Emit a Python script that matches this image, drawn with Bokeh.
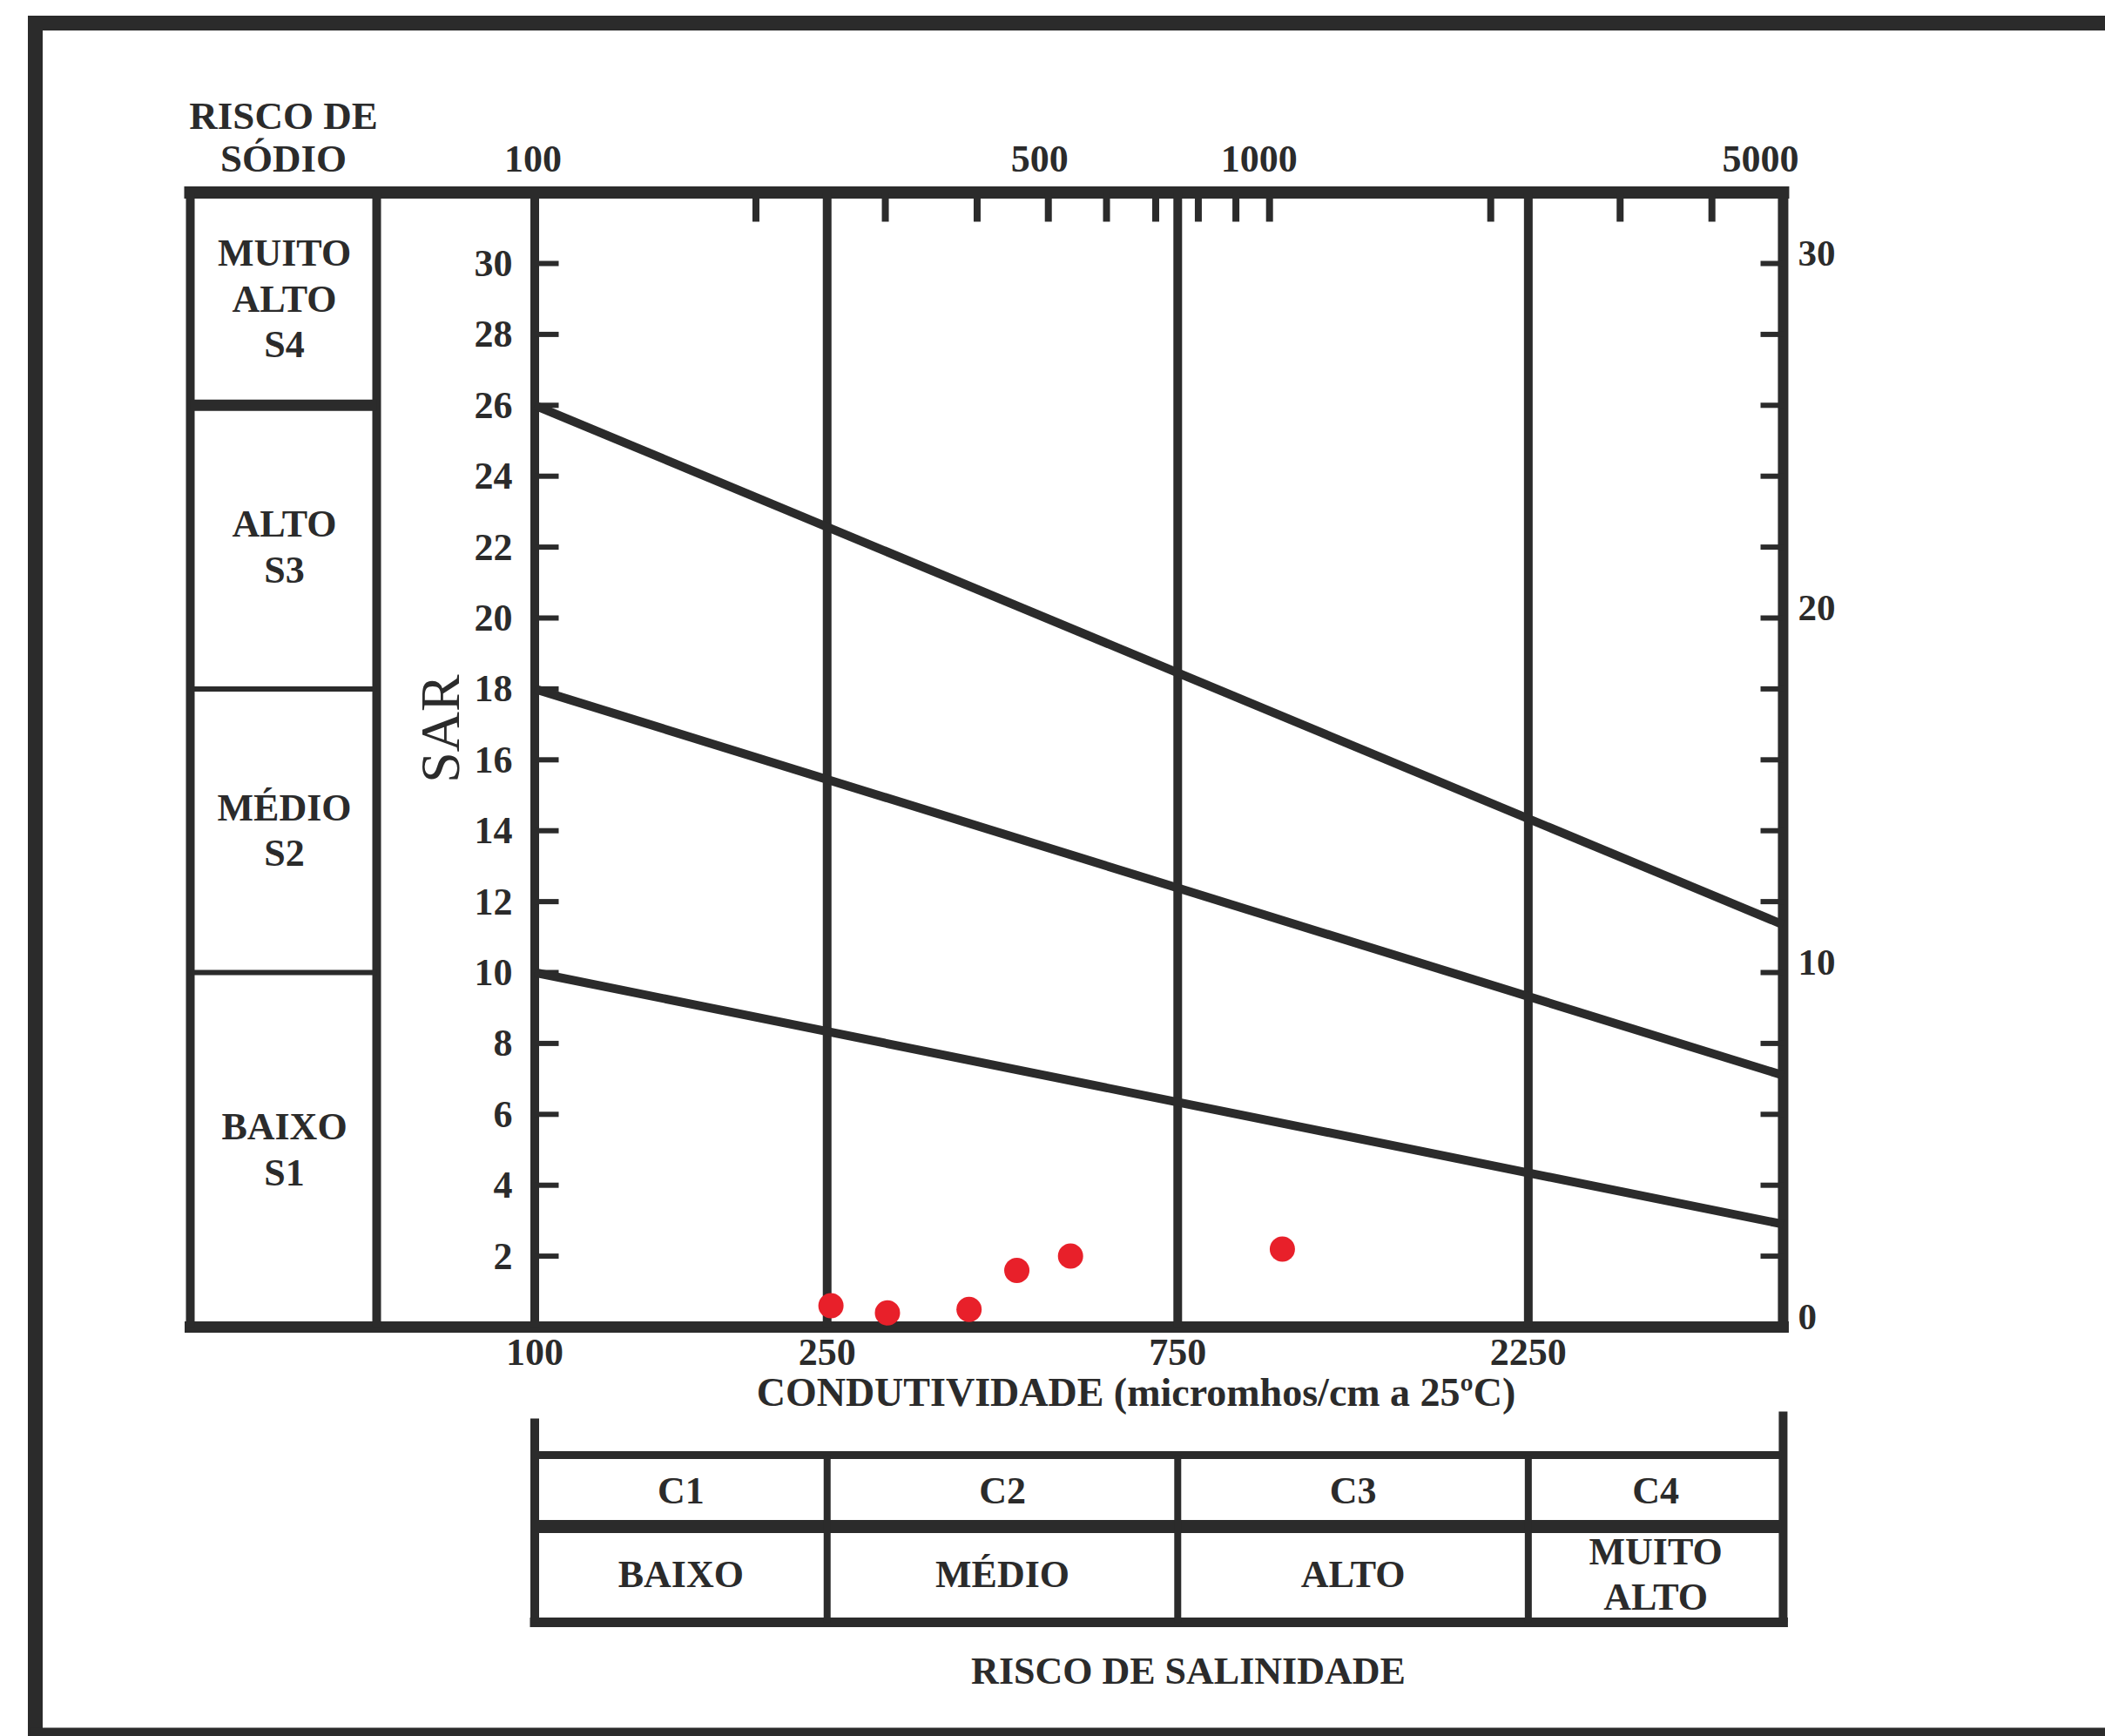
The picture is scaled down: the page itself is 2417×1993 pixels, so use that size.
import math
from bokeh.plotting import figure
from bokeh.models import Range1d
from bokeh.core.properties import value
from bokeh.embed import file_html
from bokeh.resources import INLINE

# ---------------- data ----------------
ec_class_bounds = [100, 250, 750, 2250, 5000]          # salinity class limits (micromhos/cm)
salinity_classes = ["C1", "C2", "C3", "C4"]
salinity_hazard = ["BAIXO", "MÉDIO", "ALTO", "MUITO\nALTO"]
sar_class_bounds = [0, 10, 18, 26, 32]                   # sodium class limits at EC = 100
sodium_hazard = ["BAIXO\nS1", "MÉDIO\nS2", "ALTO\nS3", "MUITO\nALTO\nS4"]
boundary_ec = [100, 5000]
boundary_s1_s2 = [10.0, 2.9]
boundary_s2_s3 = [18.0, 7.1]
boundary_s3_s4 = [26.0, 11.35]
sample_ec = [253, 302, 390, 453, 536, 1041]
sample_sar = [0.6, 0.4, 0.5, 1.6, 2.0, 2.2]
sar_ticks = [2, 4, 6, 8, 10, 12, 14, 16, 18, 20, 22, 24, 26, 28, 30]
sar_right_labels = [0, 10, 20, 30]
ec_top_ticks = [200, 300, 400, 500, 600, 700, 800, 900, 1000, 2000, 3000, 4000]
ec_top_labels = [100, 500, 1000, 5000]
ec_bottom_labels = [100, 250, 750, 2250]

# ---------------- layout helpers (picture pixels -> data) ----------------
W, H = 2417, 1993
ORIGIN = 0                        # canvas origin on the picture
PX100, PX_DEC = 613.5, 843.7      # picture x of EC=100, pixels per decade
PY0, PY_UNIT = 1523.0, 40.7       # picture y of SAR=0, pixels per SAR unit


def X(px):
    return 10 ** (2 + (px - PX100) / PX_DEC)


def Y(py):
    return (PY0 - py) / PY_UNIT


INK = "#2b2b2b"
FONT = value("Liberation Serif")

p = figure(width=W, height=H, x_axis_type="log",
           x_axis_location=None, y_axis_location=None,
           x_range=Range1d(X(ORIGIN), X(ORIGIN + W)), y_range=Range1d(Y(ORIGIN + H), Y(ORIGIN)),
           toolbar_location=None, output_backend="svg", title=None, min_border=0)
p.outline_line_color = None
p.background_fill_color = "white"
p.border_fill_color = "white"
p.grid.visible = False


def seg(x0, y0, x1, y1, w, cap="butt"):
    p.segment(x0=x0, y0=y0, x1=x1, y1=y1, line_width=w, line_color=INK, line_cap=cap)


def txt(x, y, t, size, align="center", baseline="middle", style="bold", angle=0, lh=1.07):
    p.text(x=x, y=y, text=t, text_font=FONT, text_font_size=size, text_font_style=style,
           text_color=INK, text_align=align, text_baseline=baseline, angle=angle,
           text_line_height=lh)


# ---------------- page frame ----------------
seg([X(40)], [Y(26)], [X(3000)], [Y(26)], 17, "square")
seg([X(40)], [Y(26)], [X(40)], [Y(2000)], 17, "square")
seg([X(40)], [Y(1988)], [X(3000)], [Y(1988)], 10, "square")

# ---------------- main diagram box ----------------
TL, TR = X(218), X(432)
top, bottom = sar_class_bounds[-1], sar_class_bounds[0]
xr = ec_class_bounds[-1]
seg([TL], [top], [xr], [top], 14, "square")
seg([TL], [bottom], [xr], [bottom], 13, "square")
seg([TL, TR], [bottom, bottom], [TL, TR], [top, top], 10)
seg(ec_class_bounds[:-1], [bottom] * 4, ec_class_bounds[:-1], [top] * 4, 10)
seg([xr], [bottom], [xr], [top], 12, "square")
for b, w in zip(sar_class_bounds[1:-1], [6, 6, 13]):
    seg([TL], [b], [TR], [b], w)

# ticks
seg(ec_top_ticks, [top] * len(ec_top_ticks), ec_top_ticks, [Y(254)] * len(ec_top_ticks), 8)
seg([100] * len(sar_ticks), sar_ticks, [X(641)] * len(sar_ticks), sar_ticks, 6)
seg([xr] * len(sar_ticks), sar_ticks, [X(2021)] * len(sar_ticks), sar_ticks, 6)

# boundary lines and samples
for ys in (boundary_s1_s2, boundary_s2_s3, boundary_s3_s4):
    p.line(boundary_ec, ys, line_width=10, line_color=INK)
p.scatter(sample_ec, sample_sar, size=29, marker="circle", fill_color="#e8202a", line_color=None)

# axis texts
txt([X(588)] * len(sar_ticks), sar_ticks, [str(v) for v in sar_ticks], "44px", align="right")
txt([X(2064)] * len(sar_right_labels), [v + 12 / PY_UNIT for v in sar_right_labels],
    [str(v) for v in sar_right_labels], "43px", align="left")
top_shift = [-2, -10, -12, -26]
txt([v * 10 ** (s / PX_DEC) for v, s in zip(ec_top_labels, top_shift)], [Y(182)] * len(ec_top_labels),
    [str(v) for v in ec_top_labels], "44px")
txt(ec_bottom_labels, [Y(1552)] * len(ec_bottom_labels),
    [str(v) for v in ec_bottom_labels], "44px")
txt([X(1304)], [Y(1598)], ["CONDUTIVIDADE (micromhos/cm a 25ºC)"], "46px")
txt([X(505)], [Y(836)], ["SAR"], "64px", style="normal", angle=math.pi / 2)
txt([X(325)], [Y(157)], ["RISCO DE\nSÓDIO"], "45px", lh=0.97)

# sodium hazard table texts
mids = [(a + b) / 2 for a, b in zip(sar_class_bounds[:-1], sar_class_bounds[1:])]
txt([X(326)] * 4, mids, sodium_hazard, "44px")

# salinity hazard table
seg([ec_class_bounds[0]], [Y(1670)], [xr], [Y(1670)], 9)
seg([ec_class_bounds[0]], [Y(1752)], [xr], [Y(1752)], 15)
seg([ec_class_bounds[0]], [Y(1862)], [xr], [Y(1862)], 11, "square")
seg([ec_class_bounds[0]], [Y(1628)], [ec_class_bounds[0]], [Y(1862)], 10)
seg([xr], [Y(1620)], [xr], [Y(1862)], 10)
seg(ec_class_bounds[1:-1], [Y(1670)] * 3, ec_class_bounds[1:-1], [Y(1862)] * 3, 8)
centers = [math.sqrt(a * b) for a, b in zip(ec_class_bounds[:-1], ec_class_bounds[1:])]
txt(centers, [Y(1711)] * 4, salinity_classes, "44px")
txt(centers, [Y(1807)] * 4, salinity_hazard, "44px", lh=1.05)
txt([X(1364)], [Y(1918)], ["RISCO DE SALINIDADE"], "44px")

open("out.html", "w").write(file_html(p, INLINE))
